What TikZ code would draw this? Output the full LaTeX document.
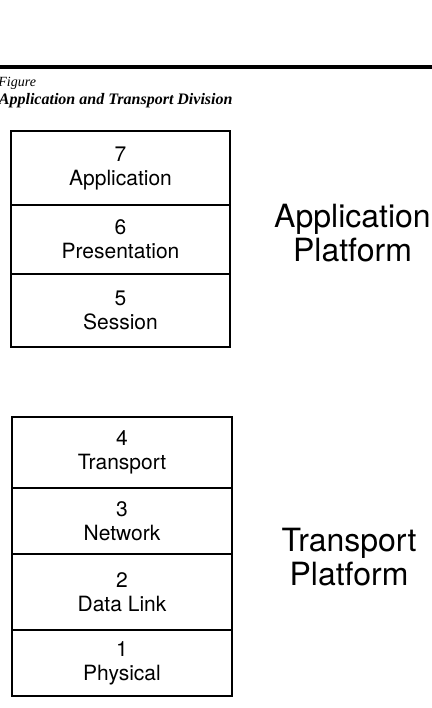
\documentclass[tikz,border=0pt]{standalone}
\usepackage{fontspec}
\setmainfont{Liberation Serif}
\setsansfont{TeX Gyre Heros}
\usetikzlibrary{positioning}
\tikzset{
  layer/.style={
    draw,
    line width=1pt,
    outer sep=0pt,
    inner sep=0pt,
    align=center,
    font=\sffamily\fontsize{10.5}{12}\selectfont
  },
  upperlayer/.style={layer, minimum width=109.5pt},
  lowerlayer/.style={layer, minimum width=110pt},
  platform/.style={
    align=center,
    inner sep=0pt,
    font=\sffamily\fontsize{16}{17}\selectfont
  },
  figcap/.style={
    anchor=base west,
    inner sep=0pt
  }
}

\begin{document}
\begin{tikzpicture}[x=0.5pt,y=-0.5pt]
  \useasboundingbox (0,0) rectangle (432,708);
  \draw[line width=2pt] (0,67) -- (432,67);
  \node[figcap, font=\itshape\fontsize{7}{8}\selectfont] (fig) at (-2,86) {Figure};
  \node[figcap, font=\bfseries\itshape\fontsize{8}{9}\selectfont] (title) at (-1.5,104) {Application and Transport Division};

  % upper stack
  \node[upperlayer, minimum height=37pt, anchor=north] (l7) at (120.5,131) {7\\Application};
  \node[upperlayer, minimum height=34.5pt, below=0pt of l7] (l6) {6\\Presentation};
  \node[upperlayer, minimum height=36.5pt, below=0pt of l6] (l5) {5\\Session};

  % lower stack
  \node[lowerlayer, minimum height=35.5pt, anchor=north] (l4) at (122,417) {4\\Transport};
  \node[lowerlayer, minimum height=33pt, below=0pt of l4] (l3) {3\\Network};
  \node[lowerlayer, minimum height=38pt, below=0pt of l3] (l2) {2\\Data Link};
  \node[lowerlayer, minimum height=33pt, below=0pt of l2] (l1) {1\\Physical};

  \node[platform] (app) at (352.5,233) {Application\\Platform};
  \node[platform] (trans) at (349,557) {Transport\\Platform};
\end{tikzpicture}
\end{document}
